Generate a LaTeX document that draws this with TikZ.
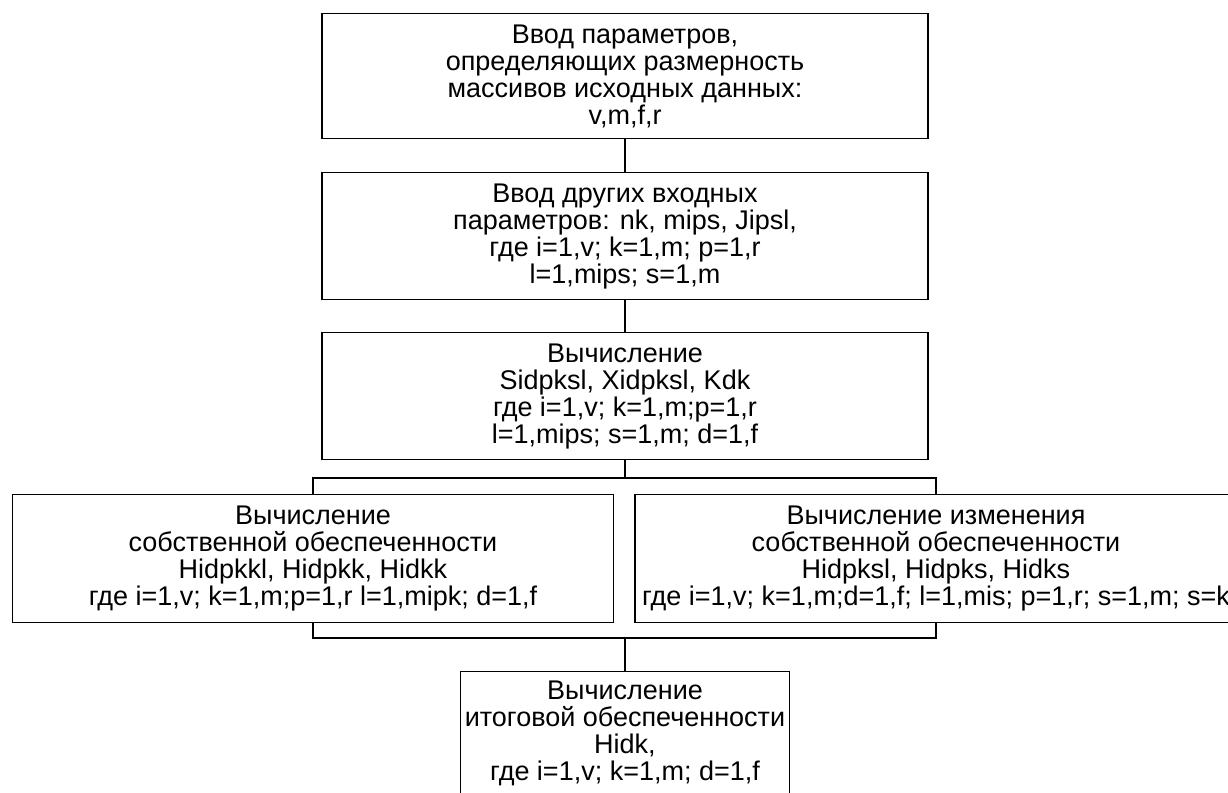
\documentclass[tikz,border=0pt]{standalone}
\usepackage{fontspec}
\setmainfont{Liberation Sans}
\tikzset{
  blk/.style={draw, line width=1.3pt, inner sep=0pt, anchor=north, align=center,
    font=\fontsize{27pt}{27pt}\selectfont},
}
\begin{document}
\begin{tikzpicture}[x=1pt, y=-1pt, line width=1.3pt]
  \useasboundingbox (0,0) rectangle (1228,792);
  \clip (0,0) rectangle (1228,792);
  % upper chain
  \node [blk, minimum width=606pt, minimum height=125pt] (inp) at (625,13)
    {Ввод параметров,\\ определяющих размерность\\ массивов исходных данных:\\ v,m,f,r};
  \node [blk, minimum width=606pt, minimum height=127pt] (oth) at (625,172)
    {Ввод других входных\\ параметров: nk, mips, Jipsl,\\ где i=1,v; k=1,m; p=1,r\\ l=1,mips; s=1,m};
  \node [blk, minimum width=606pt, minimum height=127pt] (calc) at (625,332)
    {Вычисление\\ Sidpksl, Xidpksl, Kdk\\ где i=1,v; k=1,m;p=1,r\\ l=1,mips; s=1,m; d=1,f};
  % two branches
  \node [blk, minimum width=601pt, minimum height=128pt] (own) at (313,494)
    {Вычисление\\ собственной обеспеченности\\ Hidpkkl, Hidpkk, Hidkk\\ где i=1,v; k=1,m;p=1,r l=1,mipk; d=1,f};
  \node [blk, minimum width=602pt, minimum height=128pt] (chg) at (936,494)
    {Вычисление изменения\\ собственной обеспеченности\\ Hidpksl, Hidpks, Hidks\\ где i=1,v; k=1,m;d=1,f; l=1,mis; p=1,r; s=1,m; s=k};
  % result
  \node [blk, minimum width=329pt, minimum height=124pt] (tot) at (625,671)
    {Вычисление\\ итоговой обеспеченности\\ Hidk,\\ где i=1,v; k=1,m; d=1,f};
  % connectors
  \coordinate (forkA) at (625,478);
  \coordinate (forkB) at (625,638);
  \draw (inp.south) -- (oth.north);
  \draw (oth.south) -- (calc.north);
  \draw (calc.south) -- (forkA);
  \draw (own.north) -- (own.north |- forkA) -- (chg.north |- forkA) -- (chg.north);
  \draw (own.south) -- (own.south |- forkB) -- (chg.south |- forkB) -- (chg.south);
  \draw (forkB) -- (tot.north);
\end{tikzpicture}
\end{document}
